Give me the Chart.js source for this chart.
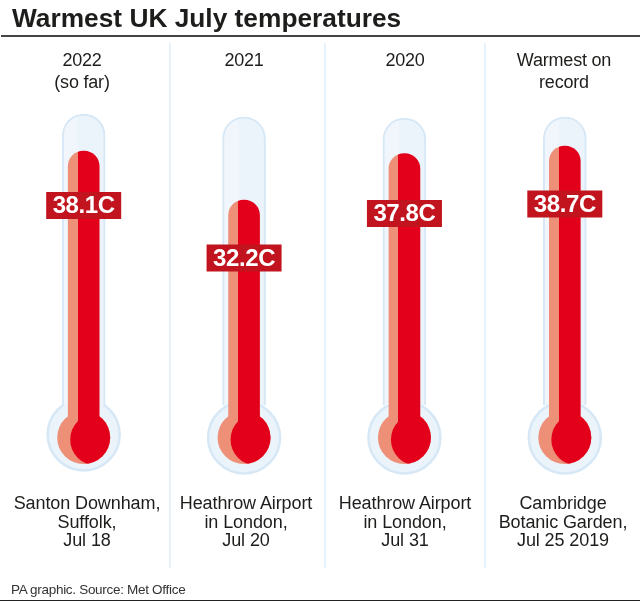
<!DOCTYPE html>
<html>
<head>
<meta charset="utf-8">
<title>Warmest UK July temperatures</title>
<script src="https://cdn.jsdelivr.net/npm/chart.js@4"></script>
<style>
    html, body { margin: 0; padding: 0; background: #fff; }
    #page { position: relative; width: 640px; height: 602px; overflow: hidden; font-family: "Liberation Sans", sans-serif; color: #1d1d1b; }
    #chart { position: absolute; left: 0; top: 0; }
    #title { position: absolute; left: 12px; top: 3px; font-size: 26.3px; line-height: 30px; font-weight: bold; white-space: nowrap; }
    #rule { position: absolute; left: 1px; right: 0; top: 35px; height: 2px; background: #444; }
    #source { position: absolute; left: 11px; top: 582px; font-size: 13.5px; line-height: 16px; color: #333; letter-spacing: -0.3px; white-space: nowrap; }
    #bottomLine { position: absolute; left: 0; right: 0; top: 600px; height: 1px; background: #222; }
    .cap { position: absolute; width: 160px; margin-left: -80px; text-align: center; white-space: pre-line; }
    .head { top: 49px; font-size: 18px; line-height: 22px; letter-spacing: -0.2px; }
    .foot { top: 494px; font-size: 18px; line-height: 18.5px; letter-spacing: -0.1px; }
</style>
</head>
<body>
<div id="page">
    <canvas id="chart" width="660" height="602"></canvas>
    <div id="title">Warmest UK July temperatures</div>
    <div id="rule"></div>
    <div id="source">PA graphic. Source: Met Office</div>
    <div id="bottomLine"></div>
</div>
<script>
// Data
const categories = ['2022', '2021', '2020', 'Warmest on record'];
const headers = ['2022\n(so far)', '2021', '2020', 'Warmest on\nrecord'];
const footers = ['Santon Downham,\nSuffolk,\nJul 18', 'Heathrow Airport\nin London,\nJul 20', 'Heathrow Airport\nin London,\nJul 31', 'Cambridge\nBotanic Garden,\nJul 25 2019'];
const temperatures = [38.1, 32.2, 37.8, 38.7];
const glassTops = [42.55, 42.2, 42.07, 42.2];
const glassBulbLevels = [3.96, 3.6, 3.6, 3.6];
const mercuryBulbLevels = [3.6, 3.6, 3.6, 3.6];

// Layout
const headerX = [82, 244, 405, 564];
const footerX = [87, 246, 405, 563];
const separatorX = [170, 325, 485];
const labelY = [205.5, 258, 213.5, 204];
const TUBE_W = 43;
const MERCURY_W = 31;
const SALMON_W = 9.5;

// Colours
const RED = '#e2001a';
const SALMON = '#ee9078';
const GLASS = '#ebf3fb';
const GLASS_LIGHT = '#f1f6fc';
const GLASS_LINE = '#d6e7f6';
const SEPARATOR = '#e0eef8';
const LABEL_BG = '#c2141e';

// Captions
const page = document.getElementById('page');
function addCaptions(texts, xs, cls) {
    texts.forEach((text, i) => {
        const el = document.createElement('div');
        el.className = `cap ${cls}`;
        el.style.left = `${xs[i]}px`;
        el.textContent = text;
        page.appendChild(el);
    });
}
addCaptions(headers, headerX, 'head');
addCaptions(footers, footerX, 'foot');

// Left part of the mercury and of the tube has a different tint
function splitFill(width, leftWidth, left, right) {
    return (ctx) => {
        const { chart, dataIndex } = ctx;
        const xScale = chart.scales.x;
        if (!xScale || !Number.isFinite(dataIndex)) return right;
        const x0 = xScale.getPixelForValue(dataIndex) - width / 2;
        if (!Number.isFinite(x0)) return right;
        const stop = leftWidth / width;
        const g = chart.ctx.createLinearGradient(x0, 0, x0 + width, 0);
        g.addColorStop(0, left);
        g.addColorStop(stop, left);
        g.addColorStop(stop, right);
        g.addColorStop(1, right);
        return g;
    };
}

const thermometerExtras = {
    id: 'thermometerExtras',
    beforeDatasetsDraw(chart) {
        const { ctx, scales: { y } } = chart;
        ctx.save();
        ctx.strokeStyle = SEPARATOR;
        ctx.lineWidth = 1.5;
        separatorX.forEach(x => {
            ctx.beginPath();
            ctx.moveTo(x, y.top - 1);
            ctx.lineTo(x, y.bottom);
            ctx.stroke();
        });
        ctx.restore();
    },
    afterDatasetsDraw(chart) {
        const { ctx, scales: { x, y } } = chart;
        temperatures.forEach((value, i) => {
            const cx = x.getPixelForValue(i);
            const cy = y.getPixelForValue(mercuryBulbLevels[i]);

            // Red part of the bulb
            ctx.save();
            ctx.beginPath();
            ctx.arc(cx, cy, 26.5, 0, Math.PI * 2);
            ctx.clip();
            ctx.fillStyle = RED;
            ctx.beginPath();
            ctx.arc(cx + 12.5, cy + 2, 26, 0, Math.PI * 2);
            ctx.fill();
            ctx.restore();

            // Value label
            ctx.save();
            ctx.fillStyle = LABEL_BG;
            ctx.fillRect(cx - 37.5, labelY[i] - 13.5, 75, 27);
            ctx.fillStyle = '#fff';
            ctx.font = 'bold 24px "Liberation Sans", sans-serif';
            ctx.letterSpacing = '-0.4px';
            ctx.textAlign = 'center';
            ctx.textBaseline = 'middle';
            ctx.fillText(`${value.toFixed(1)}C`, cx, labelY[i] + 1);
            ctx.restore();
        });
    }
};

new Chart(document.getElementById('chart'), {
    data: {
        labels: categories,
        datasets: [
            {
                type: 'line',
                label: 'Glass bulb',
                data: glassBulbLevels,
                showLine: false,
                pointRadius: 36,
                pointBackgroundColor: GLASS,
                pointBorderColor: GLASS_LINE,
                pointBorderWidth: 2.5,
                order: 5
            },
            {
                type: 'bar',
                label: 'Glass tube',
                data: glassTops,
                base: 7.5,
                grouped: false,
                barThickness: TUBE_W,
                backgroundColor: splitFill(TUBE_W, 16, GLASS_LIGHT, GLASS),
                borderColor: GLASS_LINE,
                borderWidth: 2,
                borderSkipped: 'start',
                borderRadius: 21.5,
                order: 4
            },
            {
                type: 'line',
                label: 'Mercury bulb',
                data: mercuryBulbLevels,
                showLine: false,
                pointRadius: 26.5,
                pointBackgroundColor: SALMON,
                pointBorderWidth: 0,
                order: 3
            },
            {
                type: 'bar',
                label: 'Temperature',
                data: temperatures,
                base: 5.5,
                grouped: false,
                barThickness: MERCURY_W,
                backgroundColor: splitFill(MERCURY_W, SALMON_W, SALMON, RED),
                borderWidth: 0,
                borderSkipped: 'start',
                borderRadius: 15.5,
                order: 2
            }
        ]
    },
    options: {
        responsive: false,
        animation: false,
        layout: { autoPadding: false, padding: { left: 3.5, right: 15, top: 44, bottom: 34 } },
        plugins: { legend: { display: false }, tooltip: { enabled: false }, title: { display: false } },
        scales: {
            x: { display: false, offset: true, grid: { display: false } },
            y: { display: false, min: -12.11, max: 50.98, grid: { display: false } }
        }
    },
    plugins: [thermometerExtras]
});
</script>
</body>
</html>
